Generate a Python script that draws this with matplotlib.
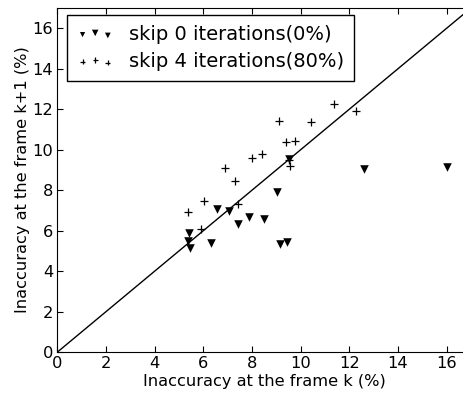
import matplotlib
matplotlib.use("Agg")
import matplotlib.pyplot as plt
from matplotlib.legend_handler import HandlerPathCollection

# skip 0 iterations (0%)
skip0_k = [5.39, 5.36, 5.43, 6.33, 6.56, 7.05, 7.42, 7.87, 8.48, 9.02, 9.14, 9.44, 9.52, 12.60, 16.02]
skip0_k1 = [5.89, 5.50, 5.12, 5.40, 7.06, 6.98, 6.32, 6.68, 6.57, 7.92, 5.33, 5.43, 9.52, 9.04, 9.15]

# skip 4 iterations (80%)
skip4_k = [9.11, 10.44, 11.36, 12.26, 9.41, 9.77, 8.00, 8.41, 9.51, 9.55, 6.87, 7.30, 6.04, 5.36, 7.41, 5.91]
skip4_k1 = [11.42, 11.36, 12.25, 11.90, 10.39, 10.44, 9.60, 9.80, 9.51, 9.19, 9.10, 8.43, 7.44, 6.91, 7.32, 6.07]

axis_max = 17
ticks = list(range(0, 17, 2))

W, H = 464, 394
fig = plt.figure(figsize=(W / 100, H / 100), dpi=100)
ax = fig.add_axes([57.5 / W, (H - 352) / H, (471 - 57.5) / W, (352 - 8) / H])

ax.plot([0, axis_max], [0, axis_max], color="k", lw=1)
s0 = ax.scatter(skip0_k, skip0_k1, marker="v", c="k", s=38, lw=0, label="skip 0 iterations(0%)")
s4 = ax.scatter(skip4_k, skip4_k1, marker="+", c="k", s=28, lw=0.9, label="skip 4 iterations(80%)")

ax.set_xlim(0, axis_max)
ax.set_ylim(0, axis_max)
ax.set_xticks(ticks)
ax.set_yticks(ticks)
ax.tick_params(direction="in", top=True, right=True, length=4, labelsize=11.7, pad=3)
ax.set_xlabel("Inaccuracy at the frame k (%)", fontsize=11.7, labelpad=2)
ax.set_ylabel("Inaccuracy at the frame k+1 (%)", fontsize=11.7, labelpad=2)

handler = {s0: HandlerPathCollection(sizes=[14, 22, 17]),
           s4: HandlerPathCollection(sizes=[11, 15, 13])}
leg = ax.legend(loc="upper left", bbox_to_anchor=(67 / W, 1 - 15 / H), bbox_transform=fig.transFigure,
                borderaxespad=0, scatterpoints=3, fancybox=False, framealpha=1, edgecolor="k",
                fontsize=14, handler_map=handler, handlelength=1.9, handletextpad=0.8,
                borderpad=0.5, labelspacing=0.42)
leg.get_frame().set_linewidth(1)

fig.savefig("out.png", dpi=100)
